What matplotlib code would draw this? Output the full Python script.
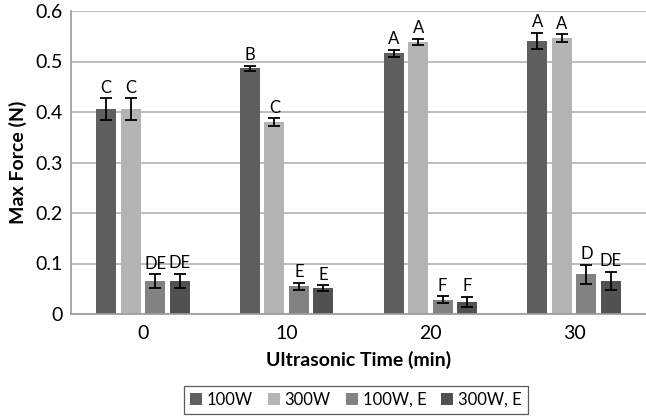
import matplotlib
matplotlib.use("Agg")
import matplotlib.pyplot as plt
import numpy as np

plt.rcParams['font.family'] = ['Lato', 'DejaVu Sans']

times = ["0", "10", "20", "30"]
series = ["100W", "300W", "100W, E", "300W, E"]
v_100w = [0.406, 0.487, 0.516, 0.541]
v_300w = [0.406, 0.380, 0.539, 0.546]
v_100we = [0.065, 0.055, 0.028, 0.079]
v_300we = [0.066, 0.051, 0.024, 0.066]
e_100w = [0.021, 0.005, 0.007, 0.016]
e_300w = [0.021, 0.008, 0.006, 0.008]
e_100we = [0.014, 0.007, 0.007, 0.019]
e_300we = [0.014, 0.006, 0.010, 0.018]
l_100w = ["C", "B", "A", "A"]
l_300w = ["C", "C", "A", "A"]
l_100we = ["DE", "E", "F", "D"]
l_300we = ["DE", "E", "F", "DE"]

colors = ["#5f5f5f", "#b4b4b4", "#828282", "#515151"]
values = [v_100w, v_300w, v_100we, v_300we]
errs = [e_100w, e_300w, e_100we, e_300we]
labels = [l_100w, l_300w, l_100we, l_300we]

fig = plt.figure(figsize=(6.46, 4.16), dpi=100)
ax = fig.add_axes([71/646, 1-314/416, 575/646, 303/416])

x = np.arange(len(times))
step = 0.17
width = 0.139
for i, (vals, er, lab) in enumerate(zip(values, errs, labels)):
    pos = x + (i - 1.5) * step
    ax.bar(pos, vals, width, color=colors[i], label=series[i], zorder=2)
    ax.errorbar(pos, vals, yerr=er, fmt='none', ecolor='black', elinewidth=1.3,
                capsize=4, capthick=1.3, zorder=3)
    for p, v, e, t in zip(pos, vals, er, lab):
        ax.text(p, v + e + 0.005, t, ha='center', va='bottom', fontsize=12, color='black')

ax.set_xlim(-0.5, 3.5)
ax.set_ylim(0, 0.6)
ax.set_yticks([0, 0.1, 0.2, 0.3, 0.4, 0.5, 0.6])
ax.set_yticklabels(["0", "0.1", "0.2", "0.3", "0.4", "0.5", "0.6"])
ax.set_xticks(x)
ax.set_xticklabels(times)
ax.tick_params(axis='both', length=0, labelsize=14, colors='black')
ax.tick_params(axis='x', pad=8)
ax.tick_params(axis='y', pad=6)
ax.yaxis.grid(True, color='#b3b3b3', linewidth=1.2, zorder=0)
ax.set_axisbelow(True)
for s in ['top', 'right']:
    ax.spines[s].set_visible(False)
ax.spines['left'].set_color('#9a9a9a')
ax.spines['bottom'].set_color('#9a9a9a')
ax.spines['left'].set_linewidth(1.2)
ax.spines['bottom'].set_linewidth(1.2)

ax.set_ylabel("Max Force (N)", fontsize=14, fontweight='bold', labelpad=6)
ax.set_xlabel("Ultrasonic Time (min)", fontsize=14, fontweight='bold', labelpad=6)

leg = fig.legend(loc='center', bbox_to_anchor=(356/646, 1-400/416), ncol=4,
                 frameon=True, fancybox=False, edgecolor='#333333', fontsize=12,
                 handlelength=0.7, handleheight=0.7, handletextpad=0.3,
                 columnspacing=0.9, borderpad=0.35)
leg.get_frame().set_linewidth(0.9)

fig.savefig("out.png", dpi=100)
